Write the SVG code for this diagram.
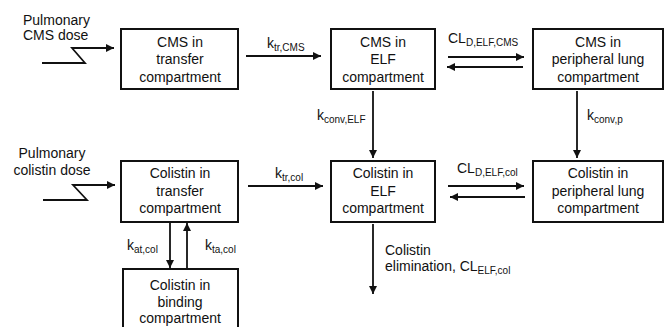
<svg xmlns="http://www.w3.org/2000/svg" width="665" height="327" viewBox="0 0 665 327">
<style>
text{font-family:"Liberation Sans",Arial,sans-serif;font-size:14px;fill:#111}
.c{text-anchor:middle}
.s{font-size:10px}
.box{fill:#fff;stroke:#111;stroke-width:2}
.ln{fill:none;stroke:#111;stroke-width:1.8}
.ar{marker-end:url(#ah)}
</style>
<defs>
<marker id="ah" markerUnits="userSpaceOnUse" markerWidth="10" markerHeight="10" refX="8" refY="4" orient="auto">
<path d="M0,0 L8,4 L0,8 Z" fill="#111"/>
</marker>
</defs>
<rect width="665" height="327" fill="#fff"/>

<g id="dose-cms">
<text x="23" y="25">Pulmonary</text>
<text x="23" y="40">CMS dose</text>
</g>
<g id="dose-col">
<text class="c" x="52" y="158">Pulmonary</text>
<text class="c" x="52" y="175">colistin dose</text>
</g>

<g id="cms-transfer">
<rect class="box" x="121" y="29" width="117" height="60"/>
<text class="c" x="180" y="46.5">CMS in</text>
<text class="c" x="180" y="64">transfer</text>
<text class="c" x="180" y="81.5">compartment</text>
</g>
<g id="cms-elf">
<rect class="box" x="331" y="29" width="104" height="60"/>
<text class="c" x="383" y="46.5">CMS in</text>
<text class="c" x="383" y="64">ELF</text>
<text class="c" x="383" y="81.5">compartment</text>
</g>
<g id="cms-peripheral">
<rect class="box" x="533" y="29" width="130" height="60"/>
<text class="c" x="598" y="46.5">CMS in</text>
<text class="c" x="598" y="64">peripheral lung</text>
<text class="c" x="598" y="81.5">compartment</text>
</g>

<g id="col-transfer">
<rect class="box" x="121" y="161" width="117" height="61"/>
<text class="c" x="180" y="178">Colistin in</text>
<text class="c" x="180" y="195.5">transfer</text>
<text class="c" x="180" y="213">compartment</text>
</g>
<g id="col-elf">
<rect class="box" x="331" y="161" width="104" height="61"/>
<text class="c" x="383" y="178">Colistin in</text>
<text class="c" x="383" y="195.5">ELF</text>
<text class="c" x="383" y="213">compartment</text>
</g>
<g id="col-peripheral">
<rect class="box" x="533" y="161" width="130" height="61"/>
<text class="c" x="598" y="178">Colistin in</text>
<text class="c" x="598" y="195.5">peripheral lung</text>
<text class="c" x="598" y="213">compartment</text>
</g>
<g id="col-binding">
<rect class="box" x="123" y="269" width="115" height="70"/>
<text class="c" x="180" y="290">Colistin in</text>
<text class="c" x="180" y="306.5">binding</text>
<text class="c" x="180" y="323">compartment</text>
</g>

<g id="connectors">
<polyline class="ln ar" points="42,63 85,63 72,48 114,48"/>
<polyline class="ln ar" points="43,200 87,200 73,185 115,185"/>
<line class="ln ar" x1="246" y1="56" x2="321" y2="56"/>
<line class="ln ar" x1="448" y1="57" x2="524" y2="57"/>
<line class="ln ar" x1="523" y1="67" x2="447" y2="67"/>
<line class="ln ar" x1="373" y1="91" x2="373" y2="158"/>
<line class="ln ar" x1="577" y1="91" x2="577" y2="158"/>
<line class="ln ar" x1="248" y1="186" x2="323" y2="186"/>
<line class="ln ar" x1="448" y1="186" x2="524" y2="186"/>
<line class="ln ar" x1="525" y1="197" x2="450" y2="197"/>
<line class="ln ar" x1="170" y1="223" x2="170" y2="268"/>
<line class="ln ar" x1="187" y1="268" x2="187" y2="223"/>
<line class="ln ar" x1="373" y1="224" x2="373" y2="294"/>
</g>

<g id="labels">
<text x="267" y="48">k<tspan class="s" dy="3">tr,CMS</tspan></text>
<text x="448" y="43">CL<tspan class="s" dy="3">D,ELF,CMS</tspan></text>
<text x="317" y="120">k<tspan class="s" dy="3">conv,ELF</tspan></text>
<text x="587" y="120">k<tspan class="s" dy="3">conv,p</tspan></text>
<text x="275" y="178">k<tspan class="s" dy="3">tr,col</tspan></text>
<text x="457" y="173">CL<tspan class="s" dy="3">D,ELF,col</tspan></text>
<text x="127" y="250">k<tspan class="s" dy="3">at,col</tspan></text>
<text x="205" y="250">k<tspan class="s" dy="3">ta,col</tspan></text>
<text x="385" y="255">Colistin</text>
<text x="385" y="271">elimination, CL<tspan class="s" dy="3">ELF,col</tspan></text>
</g>
</svg>
